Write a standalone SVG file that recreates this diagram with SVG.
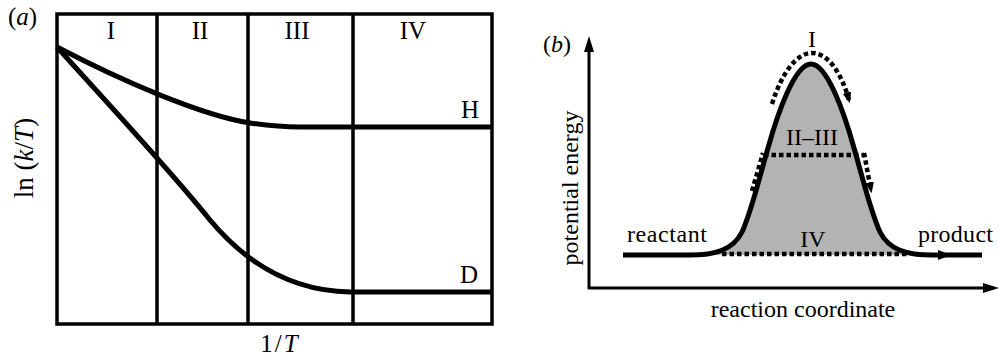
<svg xmlns="http://www.w3.org/2000/svg" width="999" height="360" viewBox="0 0 999 360">
<style>
  text { font-family: "Liberation Serif", "Times New Roman", serif; fill: #000; }
  .la { font-size: 25px; }
  .lb { font-size: 24px; }
  .it { font-style: italic; }
  .frame { fill: none; stroke: #000; stroke-width: 3.5; }
  .curve { fill: none; stroke: #000; stroke-width: 5; stroke-linejoin: round; }
  .axis { fill: none; stroke: #000; stroke-width: 3; }
  .dot { fill: none; stroke: #000; stroke-width: 4.5; stroke-dasharray: 4.5 3; }
</style>
<defs>
  <marker id="ah" viewBox="0 0 10 10" refX="7" refY="5" markerWidth="11" markerHeight="11" markerUnits="userSpaceOnUse" orient="auto">
    <path d="M0,1 L10,5 L0,9 Z" fill="#000"/>
  </marker>
</defs>

<!-- Panel (a) -->
<g id="panel-a">
  <text class="la" x="8" y="25">(<tspan class="it">a</tspan>)</text>
  <rect class="frame" x="57" y="14" width="435" height="310"/>
  <line class="frame" x1="157" y1="14" x2="157" y2="324"/>
  <line class="frame" x1="248" y1="14" x2="248" y2="324"/>
  <line class="frame" x1="353" y1="14" x2="353" y2="324"/>
  <text class="la" x="111" y="39" text-anchor="middle">I</text>
  <text class="la" x="200" y="39" text-anchor="middle">II</text>
  <text class="la" x="297" y="39" text-anchor="middle">III</text>
  <text class="la" x="413" y="39" text-anchor="middle">IV</text>
  <path id="curve-H" class="curve" d="M57,47 C120,80 200,115 250,123 C270,126 280,127 300,127 L492,127"/>
  <path id="curve-D" class="curve" d="M57,47 C100,95 170,170 210,220 C245,262 290,291 350,292 L492,292"/>
  <text class="la" x="470" y="118" text-anchor="middle">H</text>
  <text class="la" x="469" y="283" text-anchor="middle">D</text>
  <text class="la" x="279" y="352" text-anchor="middle">1<tspan dx="2">/</tspan><tspan class="it" dx="2">T</tspan></text>
  <text class="la" transform="translate(33,158) rotate(-90)" text-anchor="middle" style="font-size:27px">ln (<tspan class="it">k</tspan>/<tspan class="it">T</tspan>)</text>
</g>

<!-- Panel (b) -->
<g id="panel-b">
  <text class="lb" x="543" y="52">(<tspan class="it">b</tspan>)</text>
  <g id="axes">
    <line class="axis" x1="589" y1="289" x2="589" y2="48"/>
    <path d="M589,36 L594,52 L584,52 Z" fill="#000"/>
    <line class="axis" x1="588" y1="288" x2="986" y2="288"/>
    <path d="M999,288 L983,283 L983,293 Z" fill="#000"/>
  </g>
  <text class="lb" transform="translate(578,188) rotate(-90)" text-anchor="middle">potential energy</text>
  <text class="lb" x="803" y="317" text-anchor="middle">reaction coordinate</text>

  <g id="barrier">
    <path d="M700,255 C718,255 733,250 742,232 C752,210 760,175 768,148 C778,112 795,64 811,64 C827,64 844,112 854,148 C862,175 870,210 880,232 C889,250 904,255 922,255 Z" fill="#b3b3b3"/>
    <path class="curve" d="M623,255 L690,255 C715,255 733,250 742,232 C752,210 760,175 768,148 C778,112 795,64 811,64 C827,64 844,112 854,148 C862,175 870,210 880,232 C889,250 907,255 932,255 L982,255"/>
    <path d="M951,255 L938,250 L938,260 Z" fill="#000"/>
  </g>
  <text class="lb" x="627" y="242" textLength="80">reactant</text>
  <text class="lb" x="918" y="242" textLength="75">product</text>

  <g id="connectors">
    <path class="dot" d="M772,104 C782,72 797,53 812,53 C829,53 842,75 849,100" marker-end="url(#ah)"/>
    <path class="dot" d="M752,191 L763,153"/>
    <path class="dot" d="M764,155 L864,155"/>
    <path class="dot" d="M864,153 L871,190" marker-end="url(#ah)"/>
    <path class="dot" d="M722,254 L908,254"/>
  </g>
  <text class="lb" x="812" y="47" text-anchor="middle">I</text>
  <text class="lb" x="812" y="145" text-anchor="middle">II–III</text>
  <text class="lb" x="813" y="247" text-anchor="middle">IV</text>
</g>
</svg>
